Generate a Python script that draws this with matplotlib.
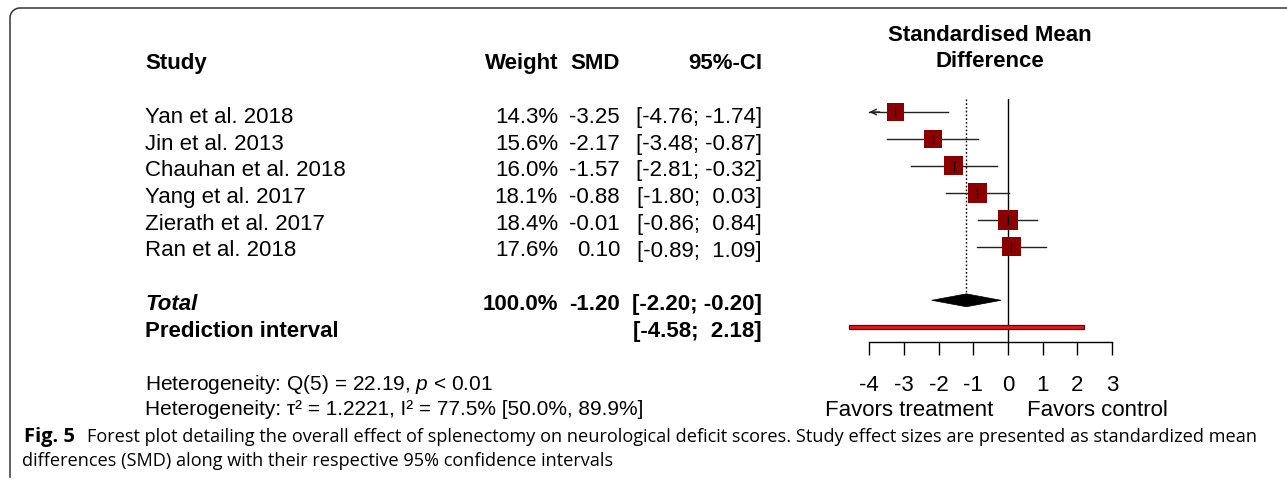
import numpy as np
import matplotlib.pyplot as plt
from matplotlib.patches import Polygon, Rectangle

plt.rcParams["font.family"] = ["Liberation Sans", "DejaVu Sans"]
plt.rcParams["mathtext.fontset"] = "custom"
plt.rcParams["mathtext.rm"] = "Liberation Sans"
plt.rcParams["mathtext.it"] = "Liberation Sans:italic"

# --------------------------------------------------
# Data
# --------------------------------------------------
studies = ["Yan et al. 2018", "Jin et al. 2013", "Chauhan et al. 2018",
           "Yang et al. 2017", "Zierath et al. 2017", "Ran et al. 2018"]
weights = [14.3, 15.6, 16.0, 18.1, 18.4, 17.6]
smd = [-3.25, -2.17, -1.57, -0.88, -0.01, 0.10]
ci_lo = [-4.76, -3.48, -2.81, -1.80, -0.86, -0.89]
ci_hi = [-1.74, -0.87, -0.32, 0.03, 0.84, 1.09]

total_smd = -1.20
total_lo, total_hi = -2.20, -0.20
pred_lo, pred_hi = -4.58, 2.18
xticks = [-4, -3, -2, -1, 0, 1, 2, 3]

# --------------------------------------------------
# Figure / pixel helpers
# --------------------------------------------------
W, H = 1287, 482
fig = plt.figure(figsize=(W / 100, H / 100), dpi=100)

# overlay in pixel coordinates for the text table
tx = fig.add_axes([0, 0, 1, 1])
tx.set_xlim(0, W)
tx.set_ylim(H, 0)
tx.axis("off")

# forest axes: x unit = 34.67 px, zero at 1008 px; rows ~27 px apart starting at 112 px
unit = 34.67
x0 = 1008
xmin, xmax = -5.0, 3.5
ytop_px, ybot_px = 99, 342
row0, drow = 112, 26.9
ymin_k = (ytop_px - row0) / drow
ymax_k = (ybot_px - row0) / drow

ax = fig.add_axes([(x0 + unit * xmin) / W, 1 - ybot_px / H,
                   unit * (xmax - xmin) / W, (ybot_px - ytop_px) / H])
ax.set_xlim(xmin, xmax)
ax.set_ylim(ymax_k, ymin_k)
ax.patch.set_alpha(0)

rows = np.arange(len(studies))
total_row = len(studies) + 1
pred_row = len(studies) + 2

# --------------------------------------------------
# Forest plot marks
# --------------------------------------------------
ax.axvline(0, color="black", lw=1.0, zorder=1)
ax.plot([total_smd, total_smd], [ymin_k, total_row - 0.24], color="black",
        lw=1.0, ls=(0, (1.2, 1.5)), zorder=1)

for k in rows:
    lo = max(ci_lo[k], xticks[0])
    ax.plot([lo, ci_hi[k]], [k, k], color="#222222", lw=1.0, zorder=2)
    if ci_lo[k] < xticks[0]:
        ax.annotate("", xy=(xticks[0], k), xytext=(xticks[0] + 0.3, k),
                    arrowprops=dict(arrowstyle="->", color="#222222", lw=1.0,
                                    mutation_scale=10, shrinkA=0, shrinkB=0))
    side = 20 * np.sqrt(weights[k] / 18.4) * 0.72
    ax.scatter(smd[k], k, marker="s", s=side ** 2, color="#8B0000",
               edgecolor="none", zorder=3)
    ax.plot(smd[k], k, marker="|", ms=7, mew=0.9, color="black", zorder=4)

diamond = Polygon([[total_lo, total_row], [total_smd, total_row - 0.24],
                   [total_hi, total_row], [total_smd, total_row + 0.24]],
                  closed=True, facecolor="black", edgecolor="black", lw=0.5,
                  zorder=3)
ax.add_patch(diamond)

ax.add_patch(Rectangle((pred_lo, pred_row - 0.08), pred_hi - pred_lo, 0.16,
                       facecolor="#E8161B", edgecolor="#5a0a0a", lw=0.9,
                       zorder=3))

for s in ["top", "left", "right"]:
    ax.spines[s].set_visible(False)
ax.spines["bottom"].set_bounds(xticks[0], xticks[-1])
ax.spines["bottom"].set_linewidth(1.0)
ax.set_xticks(xticks)
ax.set_xticklabels([str(v) for v in xticks], fontsize=16)
ax.tick_params(axis="x", direction="out", length=9, width=1.0, pad=15)
ax.set_yticks([])

# --------------------------------------------------
# Table text (baselines in pixels)
# --------------------------------------------------
fs_main = 16
x_study, x_w, x_smd, x_ci = 145, 558, 620, 762
base0, dbase = 123, 26.7
hy = 69
bold = dict(fontsize=fs_main, fontweight="bold", va="baseline")
norm = dict(fontsize=fs_main, va="baseline")

tx.text(x_study, hy, "Study", **bold)
tx.text(x_w, hy, "Weight", ha="right", **bold)
tx.text(x_smd, hy, "SMD", ha="right", **bold)
tx.text(x_ci, hy, "95%-CI", ha="right", **bold)

for k in rows:
    y = base0 + dbase * k
    tx.text(x_study, y, studies[k], **norm)
    tx.text(x_w, y, f"{weights[k]:.1f}%", ha="right", **norm)
    tx.text(x_smd, y, f"{smd[k]:.2f}", ha="right", **norm)
    tx.text(x_ci, y, f"[{ci_lo[k]:5.2f}; {ci_hi[k]:5.2f}]", ha="right", **norm)

y = base0 + dbase * total_row
tx.text(x_study, y, "Total", style="italic", **bold)
tx.text(x_w, y, f"{sum(weights):.1f}%", ha="right", **bold)
tx.text(x_smd, y, f"{total_smd:.2f}", ha="right", **bold)
tx.text(x_ci, y, f"[{total_lo:5.2f}; {total_hi:5.2f}]", ha="right", **bold)
y = base0 + dbase * pred_row
tx.text(x_study, y, "Prediction interval", **bold)
tx.text(x_ci, y, f"[{pred_lo:5.2f}; {pred_hi:5.2f}]", ha="right", **bold)

tx.text(x_study, 390, r"Heterogeneity: Q(5) = 22.19, $p$ < 0.01", fontsize=15, va="baseline")
tx.text(x_study, 415, "Heterogeneity: τ² = 1.2221, I² = 77.5% [50.0%, 89.9%]",
        fontsize=15, va="baseline")

tx.text(990, 41, "Standardised Mean", ha="center", **bold)
tx.text(990, 67, "Difference", ha="center", **bold)
tx.text(993, 416, "Favors treatment", ha="right", **norm)
tx.text(1027, 416, "Favors control", ha="left", **norm)

# --------------------------------------------------
# Frame and caption
# --------------------------------------------------
r = 10
theta = np.linspace(np.pi, np.pi / 2, 20)
fx = np.concatenate([[10], 10 + r + r * np.cos(theta), [W + 5]])
fy = np.concatenate([[477], 8 + r - r * np.sin(theta), [8]])
tx.plot(fx, fy, color="#333333", lw=1.1, clip_on=False)

cap_font = ["Open Sans", "DejaVu Sans"]
cap = dict(fontsize=13.1, family=cap_font, va="baseline")
tx.text(24, 442, "Fig. 5", fontsize=14.5, fontweight="bold", family=cap_font, va="baseline")
tx.text(87, 442, "Forest plot detailing the overall effect of splenectomy on neurological "
        "deficit scores. Study effect sizes are presented as standardized mean", **cap)
tx.text(22, 466, "differences (SMD) along with their respective 95% confidence intervals",
        **cap)

fig.savefig("out.png", dpi=100)
